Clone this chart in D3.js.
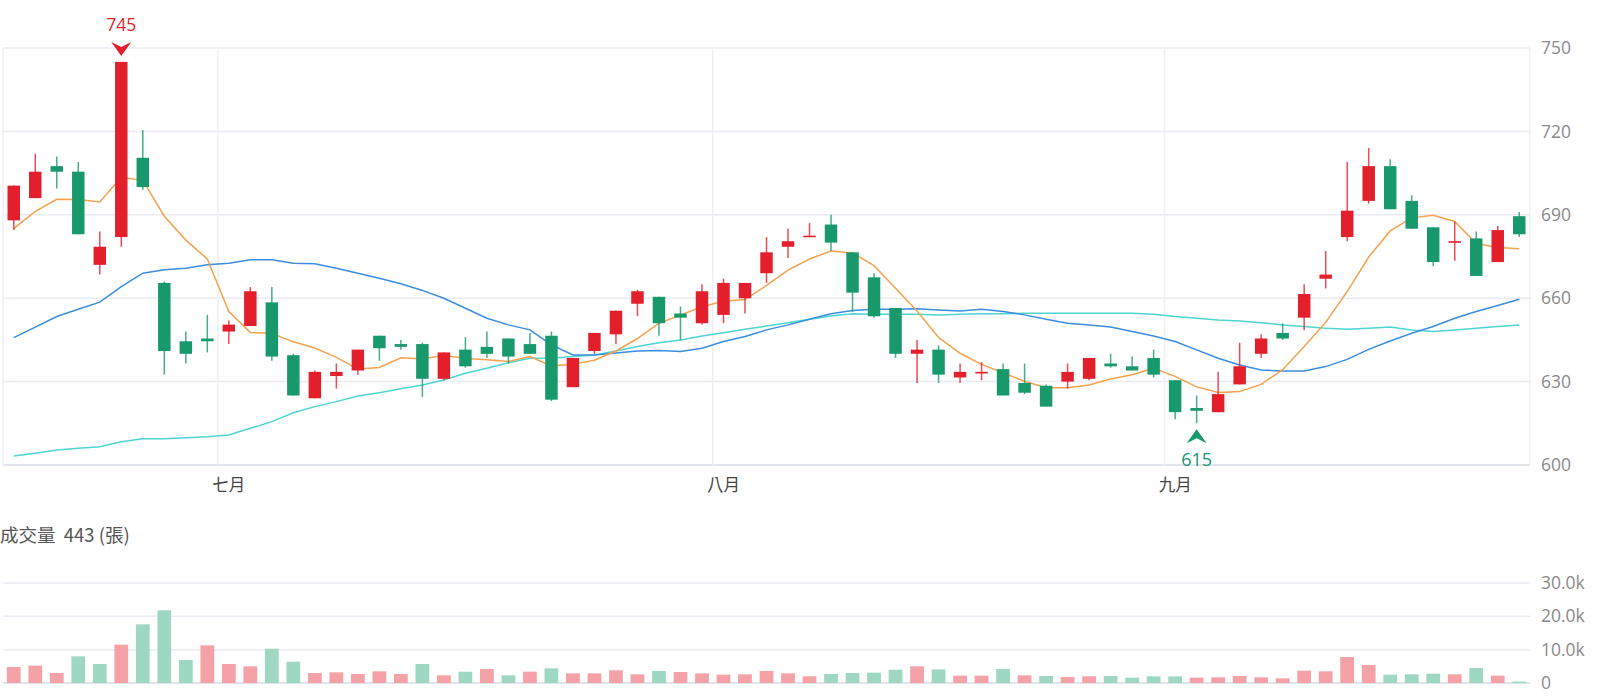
<!DOCTYPE html>
<html>
<head>
<meta charset="utf-8">
<script src="https://cdn.jsdelivr.net/npm/d3@7"></script>
<style>
  html, body { margin: 0; padding: 0; background: #fff; }
  svg { display: block; font-family: "Open Sans", "Noto Sans CJK TC", sans-serif; }
</style>
</head>
<body>
<div id="chart"></div>
<script>
// Asks JavaScript to show more errors.
"use strict";

/*
 * # Data (one entry per trading day)
 */
var opens  = [688, 696, 707.5, 705.5, 672, 682, 710.5, 665.5, 644.5, 645.5,
              648, 650, 658.5, 639.5, 624, 632, 634, 646.5, 643.5, 643.5,
              631, 641.5, 642.5, 645.5, 643.5, 646.5, 628, 641, 647, 658,
              660.5, 654.5, 651, 654, 660, 669, 678.5, 682, 686.5, 676.5,
              667.5, 656.5, 640, 641.5, 631.5, 633, 634.5, 629.5, 628.5, 630,
              631, 636.5, 635.5, 638.5, 630.5, 620.5, 619, 629, 640, 647.5,
              653, 667, 682, 695, 707.5, 695, 685.5, 680, 681.5, 673, 689.5];
var closes = [700.5, 705.5, 705.5, 683, 678.5, 745, 700, 641, 640, 644.5,
              650.5, 662.5, 639, 625, 633.5, 633.5, 641.5, 642, 642.5, 631,
              640.5, 635.5, 640, 639, 640, 623.5, 638.5, 647.5, 655.5, 662.5,
              651, 653, 662.5, 665.5, 665.5, 676.5, 680.5, 682.5, 680, 662,
              653.5, 640, 641.5, 632.5, 633.5, 633.5, 625, 626, 621, 633.5,
              638.5, 635.5, 634, 632.5, 619, 619.5, 625.5, 635.5, 645.5, 645.5,
              661.5, 668.5, 691.5, 707.5, 692, 685, 673, 680.5, 668, 684.5, 683];
var highs  = [700.5, 712, 711, 709, 684, 745, 720.5, 666, 648, 654,
              652, 664, 664, 640, 634, 636.5, 641.5, 646.5, 645, 644,
              640.5, 646, 648, 645.5, 647.5, 648, 638.5, 647.5, 655.5, 663,
              660.5, 657, 665, 667, 665.5, 682, 685, 687, 690, 676.5,
              669, 656.5, 645, 643, 636.5, 637, 636.5, 636.5, 629, 636.5,
              638.5, 640, 639, 641.5, 630.5, 625, 633.5, 644, 647, 651,
              665, 677, 709, 714, 710, 697, 685.5, 687.5, 684, 686, 691];
var lows   = [684.5, 696, 699.5, 683, 668.5, 678.5, 699, 632.5, 636.5, 640.5,
              643.5, 650, 637.5, 625, 624, 627.5, 632.5, 637.5, 641.5, 624.5,
              630.5, 635, 638.5, 636.5, 640, 623, 628, 640, 643.5, 653.5,
              646.5, 645, 650.5, 651, 654.5, 665.5, 674.5, 682, 677, 655,
              653, 638.5, 629.5, 629.5, 629.5, 630.5, 625, 625.5, 621, 627.5,
              630.5, 635, 634, 631.5, 616.5, 615, 619, 629, 638.5, 645,
              648.5, 663.5, 680.5, 694, 692, 685, 671.5, 673.5, 668, 673, 682];

var ma5  = [685, 691.2, 695.6, 695.5, 694.6, 703.5, 702.4, 689.5, 680.9, 674.1,
            655.2, 647.7, 647.3, 644.3, 642.1, 638.7, 634.5, 635.1, 638.6, 638.1,
            639.5, 638.3, 637.9, 637.2, 639, 635.6, 636.2, 637.7, 641, 645.5,
            651, 653.9, 656.9, 658.9, 659.5, 664.6, 670.1, 674.1, 677, 676.3,
            671.7, 663.6, 655.4, 645.9, 640.2, 636.2, 633.2, 630.1, 627.8, 627.8,
            628.8, 630.9, 632.5, 634.8, 631.9, 628.1, 626.1, 626.4, 629, 634.3,
            642.6, 651.3, 662.4, 674.8, 684.2, 688.9, 689.8, 687.6, 679.7, 678.2, 677.8];
var ma20 = [645.8, 649.6, 653.4, 656, 658.6, 664.2, 669, 670.2, 670.8, 672,
            672.6, 673.8, 673.8, 672.6, 672.4, 670.8, 669, 667.2, 665.2, 662.8,
            660, 656.4, 652.8, 650.4, 648.6, 643.2, 639.6, 639.6, 640.3, 641,
            641.2, 640.8, 642, 644.4, 646.2, 648.6, 650.4, 652.4, 654.4, 655.6,
            656, 656, 656.2, 655.8, 655.4, 656, 655.2, 654, 652.4, 651,
            650.4, 649.6, 648, 646.4, 644.4, 641.4, 638.4, 636, 634.2, 633.8,
            633.8, 635.4, 638, 641.6, 644.6, 647.4, 649.8, 652.8, 655.2, 657.4, 659.6];
var ma60 = [603.2, 604.2, 605.4, 606, 606.6, 608.4, 609.4, 609.4, 609.8, 610.2,
            610.8, 613.2, 615.6, 618.8, 621, 622.8, 624.8, 626, 627.4, 628.8,
            630.6, 633, 634.8, 636.8, 638.4, 638.4, 639, 639.6, 641, 642.6,
            644, 645, 646.4, 647.6, 648.8, 650, 651.2, 652.4, 653.6, 654.4,
            654.2, 654.2, 654.2, 654, 654.2, 654.4, 654.4, 654.6, 654.6, 654.6,
            654.6, 654.6, 654.6, 654.2, 653.4, 652.8, 652.2, 651.8, 651.2, 650.4,
            649.8, 649.2, 648.8, 649.2, 649.6, 648.6, 648, 648.6, 649.2, 649.8, 650.4];

var volumes = [4800, 5200, 3000, 8000, 5700, 11500, 17600, 21800, 6900, 11300,
               5700, 5000, 10300, 6400, 3000, 3200, 2700, 3500, 2700, 5700,
               2300, 3400, 4200, 2300, 3400, 4400, 2900, 2900, 3800, 2600,
               3600, 3300, 2900, 2500, 2600, 3600, 2900, 2000, 2700, 3000,
               3100, 4000, 5000, 4100, 2200, 2200, 4200, 2300, 2100, 1800,
               2000, 2100, 1600, 2000, 2000, 1600, 1700, 2100, 1700, 1400,
               3700, 3500, 7800, 5400, 2500, 2600, 2800, 2600, 4500, 2200, 443];

var monthLabels = ["七月", "八月", "九月"];
var monthStart  = [10, 33, 54];          // index of first trading day of the month
var priceTicks  = [600, 630, 660, 690, 720, 750];
var volumeTicks = [0, 10000, 20000, 30000];
var volumeTitle = "成交量  443 (張)";

/*
 * # d3.js drawing
 */
var RED = "#e41f2c", GREEN = "#18996b";
var RED_LIGHT = "#f4a2a7", GREEN_LIGHT = "#9fd8c2";
var GRID = "#e9ecf3", LABEL = "#8a8a8a";

var width = 1600, height = 700;
var plotLeft = 3, plotRight = 1530;

var svg = d3.select("#chart")
            .append("svg")
            .attr("width", width)
            .attr("height", height);

var x = d3.scaleBand()
          .domain(d3.range(opens.length))
          .range([plotLeft, plotRight])
          .padding(0);
var bw = x.bandwidth();
var cx = function (i) { return x(i) + bw / 2; };

var y = d3.scaleLinear()
          .domain([600, 750])
          .range([465, 48]);

var yv = d3.scaleLinear()
           .domain([0, 30000])
           .range([683, 583]);

// price grid
svg.append("g")
   .selectAll("line")
   .data(priceTicks)
   .enter()
   .append("line")
   .attr("x1", plotLeft).attr("x2", plotRight)
   .attr("y1", function (d) { return y(d); })
   .attr("y2", function (d) { return y(d); })
   .attr("stroke", function (d) { return d === 600 ? "#d8dce6" : GRID; })
   .attr("stroke-width", 1.5);

// month grid + side borders
svg.append("g")
   .selectAll("line")
   .data(monthStart)
   .enter()
   .append("line")
   .attr("x1", function (d) { return x(d); })
   .attr("x2", function (d) { return x(d); })
   .attr("y1", y(750)).attr("y2", y(600))
   .attr("stroke", "#eef0f5")
   .attr("stroke-width", 1.5);

[plotLeft, plotRight].forEach(function (px) {
  svg.append("line")
     .attr("x1", px).attr("x2", px)
     .attr("y1", y(750)).attr("y2", y(600))
     .attr("stroke", "#eef0f5")
     .attr("stroke-width", 1.5);
});

// price axis labels
var priceAxis = d3.axisRight(y)
                  .tickValues(priceTicks)
                  .tickSize(0)
                  .tickPadding(11);
var pa = svg.append("g")
   .attr("transform", "translate(" + plotRight + ",0)")
   .call(priceAxis);
pa.select(".domain").remove();
pa.selectAll("text").attr("fill", LABEL).style("font-size", "17.5px")
  .style("font-family", "'Open Sans', sans-serif");

// month labels
var monthAxis = d3.axisBottom(x)
                  .tickValues(monthStart)
                  .tickFormat(function (d, i) { return monthLabels[i]; })
                  .tickSize(0)
                  .tickPadding(14);
var ma = svg.append("g")
   .attr("transform", "translate(0," + y(600) + ")")
   .call(monthAxis);
ma.select(".domain").remove();
ma.selectAll("text").attr("fill", "#444").style("font-size", "16.5px")
  .style("font-family", "'Noto Sans CJK TC', sans-serif");

// moving averages (drawn under the candles)
var maLine = d3.line()
               .x(function (d, i) { return cx(i); })
               .y(function (d) { return y(d); });

[[ma60, "#4dd5d1"], [ma20, "#3a8de0"], [ma5, "#f5a24e"]].forEach(function (s) {
  svg.append("path")
     .attr("d", maLine(s[0]))
     .attr("fill", "none")
     .attr("stroke", s[1])
     .attr("stroke-width", 1.5);
});

// candles
var isUp = function (i) { return closes[i] >= opens[i]; };
var candles = svg.append("g")
   .selectAll("g")
   .data(d3.range(opens.length))
   .enter()
   .append("g");

candles.append("line")
  .attr("x1", cx).attr("x2", cx)
  .attr("y1", function (i) { return y(highs[i]); })
  .attr("y2", function (i) { return y(lows[i]); })
  .attr("stroke", function (i) { return isUp(i) ? RED : GREEN; })
  .attr("stroke-opacity", 0.8)
  .attr("stroke-width", 1.5);

candles.append("rect")
  .attr("x", function (i) { return cx(i) - bw * 0.29; })
  .attr("width", bw * 0.58)
  .attr("y", function (i) { return y(Math.max(opens[i], closes[i])); })
  .attr("height", function (i) {
    return Math.max(1.6, Math.abs(y(opens[i]) - y(closes[i])));
  })
  .attr("fill", function (i) { return isUp(i) ? RED : GREEN; });

// max / min markers
var arrowPath = "M0,0 L-10,-14 L0,-9 L10,-14 Z";   // tip at 0,0 pointing down
var iMax = d3.maxIndex(highs), iMin = d3.minIndex(lows);

svg.append("path")
   .attr("d", arrowPath)
   .attr("transform", "translate(" + cx(iMax) + "," + (y(highs[iMax]) - 6) + ")")
   .attr("fill", RED);
svg.append("text")
   .attr("x", cx(iMax))
   .attr("y", y(highs[iMax]) - 31)
   .attr("text-anchor", "middle")
   .attr("fill", RED)
   .style("font-size", "17.5px")
   .text(highs[iMax]);

svg.append("path")
   .attr("d", arrowPath)
   .attr("transform", "translate(" + cx(iMin) + "," + (y(lows[iMin]) + 6) + ") scale(1,-1)")
   .attr("fill", GREEN);
svg.append("text")
   .attr("x", cx(iMin))
   .attr("y", y(lows[iMin]) + 43)
   .attr("text-anchor", "middle")
   .attr("fill", GREEN)
   .style("font-size", "18px")
   .text(lows[iMin]);

/*
 * # Volume panel
 */
svg.append("text")
   .attr("x", 0)
   .attr("y", 542)
   .attr("fill", "#555")
   .attr("xml:space", "preserve")
   .style("white-space", "pre")
   .style("font-size", "18.5px")
   .style("font-family", "'Noto Sans CJK TC', sans-serif")
   .text(volumeTitle);

svg.append("g")
   .selectAll("line")
   .data(volumeTicks)
   .enter()
   .append("line")
   .attr("x1", plotLeft).attr("x2", plotRight)
   .attr("y1", function (d) { return yv(d); })
   .attr("y2", function (d) { return yv(d); })
   .attr("stroke", function (d) { return d === 0 ? "#d8dce6" : GRID; })
   .attr("stroke-width", 1.5);

var volUp = function (i) {
  return i === 0 ? closes[i] >= opens[i] : closes[i] >= closes[i - 1];
};

svg.append("g")
   .selectAll("rect")
   .data(volumes)
   .enter()
   .append("rect")
   .attr("x", function (d, i) { return cx(i) - bw * 0.32; })
   .attr("width", bw * 0.64)
   .attr("y", function (d) { return yv(d); })
   .attr("height", function (d) { return yv(0) - yv(d); })
   .attr("fill", function (d, i) { return volUp(i) ? RED_LIGHT : GREEN_LIGHT; });

var volAxis = d3.axisRight(yv)
                .tickValues(volumeTicks)
                .tickFormat(function (d) { return d === 0 ? "0" : (d / 1000).toFixed(1) + "k"; })
                .tickSize(0)
                .tickPadding(11);
var va = svg.append("g")
   .attr("transform", "translate(" + plotRight + ",0)")
   .call(volAxis);
va.select(".domain").remove();
va.selectAll("text").attr("fill", LABEL).style("font-size", "17.5px")
  .style("font-family", "'Open Sans', sans-serif");
</script>
</body>
</html>
